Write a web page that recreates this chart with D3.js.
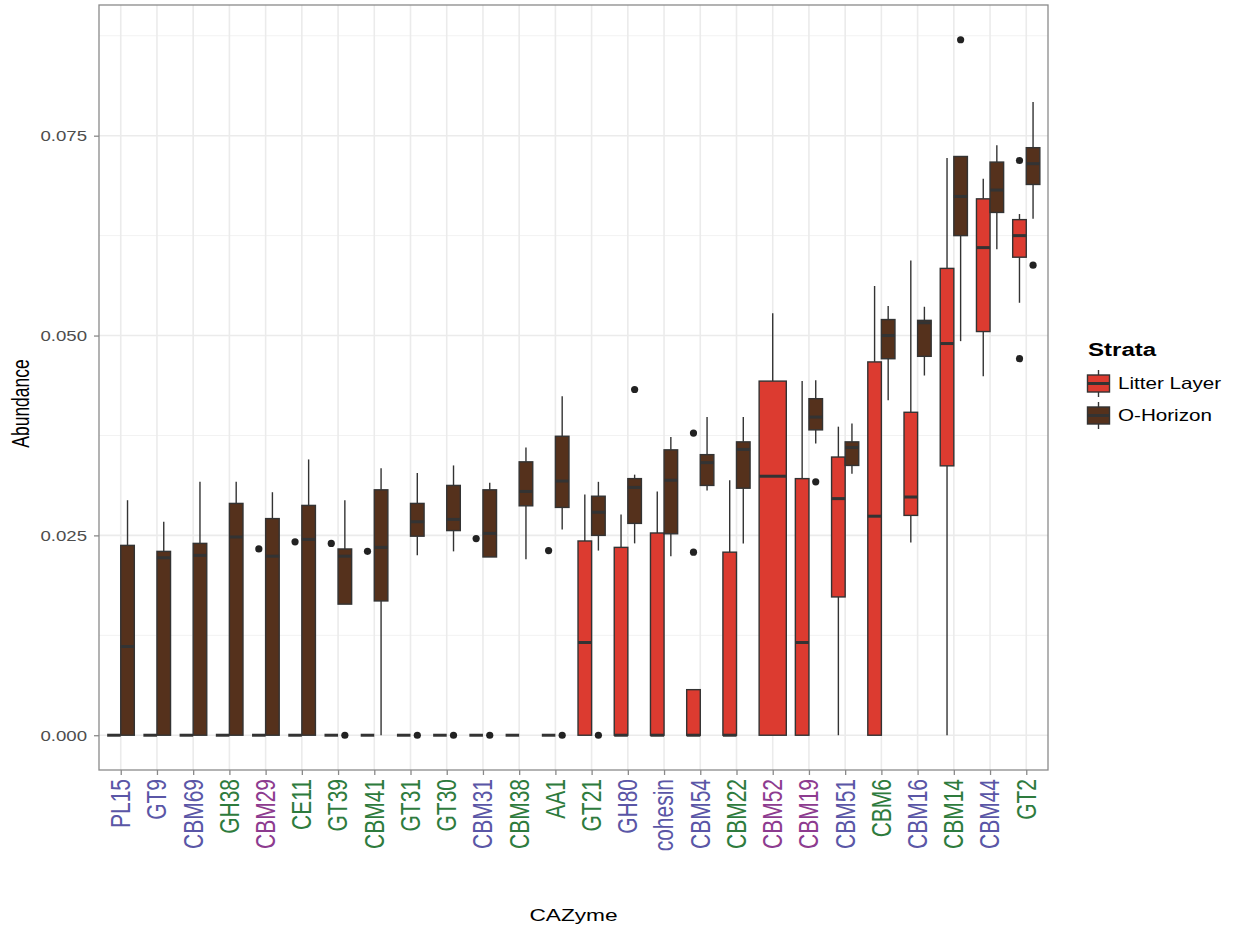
<!DOCTYPE html>
<html>
<head>
<meta charset="utf-8">
<script src="https://cdn.jsdelivr.net/npm/d3@7/dist/d3.min.js"></script>
<style>
  html, body { margin: 0; padding: 0; background: #fff; }
  svg { display: block; }
  text { font-family: "Liberation Sans", Arial, Helvetica, sans-serif; }
</style>
</head>
<body>
<svg id="chart" width="1235" height="934"></svg>
<script>
// CAZyme families along the x axis, ordered by O-Horizon abundance
const categories = ["PL15","GT9","CBM69","GH38","CBM29","CE11","GT39","CBM41","GT31","GT30",
  "CBM31","CBM38","AA1","GT21","GH80","cohesin","CBM54","CBM22","CBM52","CBM19",
  "CBM51","CBM6","CBM16","CBM14","CBM44","GT2"];

// tick label colour group per family
const labelGroup = ["b","b","b","g","p","g","g","g","g","g",
  "b","g","g","g","b","b","b","g","p","p",
  "b","g","b","g","b","g"];

// box summaries: [lower whisker, Q1, median, Q3, upper whisker]
const litterStats = [
  [0,0,0,0,0],[0,0,0,0,0],[0,0,0,0,0],[0,0,0,0,0],[0,0,0,0,0],
  [0,0,0,0,0],[0,0,0,0,0],[0,0,0,0,0],[0,0,0,0,0],[0,0,0,0,0],
  [0,0,0,0,0],[0,0,0,0,0],[0,0,0,0,0],
  [0,0,0.0116,0.0243,0.0301],
  [0,0,0,0.0235,0.0276],
  [0,0,0,0.0253,0.0305],
  [0,0,0,0.0057,0.0057],
  [0,0,0,0.0229,0.0319],
  [0,0,0.0324,0.0443,0.0528],
  [0,0,0.0116,0.0321,0.0443],
  [0,0.0173,0.0296,0.0348,0.0386],
  [0,0,0.0274,0.0467,0.0562],
  [0.0241,0.0275,0.0298,0.0404,0.0594],
  [0,0.0337,0.0490,0.0584,0.0722],
  [0.0449,0.0505,0.0610,0.0671,0.0696],
  [0.0541,0.0598,0.0625,0.0645,0.0652]
];

const oHorizonStats = [
  [0,0,0.0111,0.02375,0.0294],
  [0,0,0.0222,0.0230,0.0267],
  [0,0,0.0225,0.0240,0.0317],
  [0,0,0.0248,0.0290,0.0317],
  [0,0,0.0224,0.0271,0.0304],
  [0,0,0.0245,0.02875,0.0345],
  [0.0164,0.0164,0.0224,0.0233,0.0294],
  [0,0.0168,0.0235,0.0307,0.0334],
  [0.0225,0.0249,0.0267,0.0290,0.0328],
  [0.0230,0.0256,0.0270,0.03125,0.03375],
  [0.0223,0.0223,0.02525,0.0307,0.0316],
  [0.0220,0.0287,0.0305,0.0342,0.0360],
  [0.02575,0.0285,0.0318,0.0374,0.0424],
  [0.0231,0.0250,0.0279,0.0299,0.0317],
  [0.0240,0.0265,0.0310,0.0321,0.0326],
  [0.0224,0.0252,0.0319,0.0357,0.0373],
  [0.0306,0.03125,0.0341,0.0351,0.0398],
  [0.0240,0.0309,0.03575,0.0367,0.0398],
  null,
  [0.0365,0.0382,0.0398,0.0421,0.0444],
  [0.0327,0.03375,0.0360,0.0367,0.0390],
  [0.0419,0.0471,0.0500,0.0520,0.0537],
  [0.0450,0.0474,0.0516,0.0519,0.0536],
  [0.0493,0.0625,0.0674,0.0724,0.0724],
  [0.0608,0.0654,0.0682,0.0717,0.0738],
  [0.0646,0.0689,0.0715,0.0735,0.0792]
];

const litterOutliers = [
  [],[],[],[],[0.0233],[0.0242],[0.0240],[0.0230],[],[],
  [0.0246],[],[0.0231],[],[],[],[0.0229,0.0378],[],[],[],
  [],[],[],[],[],[0.0719,0.0471]
];

const oHorizonOutliers = [
  [],[],[],[],[],[],[0],[],[0],[0],
  [0],[],[0],[0],[0.04325],[],[],[],[],[0.0317],
  [],[],[],[0.0870],[],[0.0588]
];

const strata = ["Litter Layer", "O-Horizon"];
const strataFill = ["#dc3b30", "#55311c"];
const groupColors = { b: "#5a56a6", g: "#2e7b3d", p: "#8d3b8f" };
const yTicks = [0, 0.025, 0.05, 0.075];
const yMinorTicks = [0.0125, 0.0375, 0.0625, 0.0875];

// ---- layout ----
const svg = d3.select("#chart");
const panel = { left: 99, right: 1048, top: 5, bottom: 770 };
const ink = "#333333";

const allValues = [];
[litterStats, oHorizonStats].forEach(arr => arr.forEach(s => { if (s) allValues.push(...s); }));
[litterOutliers, oHorizonOutliers].forEach(arr => arr.forEach(o => allValues.push(...o)));
const [vmin, vmax] = d3.extent(allValues);
const pad = (vmax - vmin) * 0.05;

const y = d3.scaleLinear().domain([vmin - pad, vmax + pad]).range([panel.bottom, panel.top]);
const x = d3.scalePoint().domain(categories).range([panel.left, panel.right]).padding(0.6);
const step = x.step();
const dodgeWidth = step * 0.75;

// panel background + grid
svg.append("rect").attr("x", panel.left).attr("y", panel.top)
  .attr("width", panel.right - panel.left).attr("height", panel.bottom - panel.top)
  .attr("fill", "#fff");

const grid = svg.append("g");
grid.selectAll("line.minor").data(yMinorTicks.filter(t => y(t) > panel.top)).join("line")
  .attr("x1", panel.left).attr("x2", panel.right)
  .attr("y1", d => y(d)).attr("y2", d => y(d))
  .attr("stroke", "#f2f2f2").attr("stroke-width", 1);
grid.selectAll("line.majorY").data(yTicks).join("line")
  .attr("x1", panel.left).attr("x2", panel.right)
  .attr("y1", d => y(d)).attr("y2", d => y(d))
  .attr("stroke", "#ebebeb").attr("stroke-width", 1.6);
grid.selectAll("line.majorX").data(categories).join("line")
  .attr("x1", d => x(d)).attr("x2", d => x(d))
  .attr("y1", panel.top).attr("y2", panel.bottom)
  .attr("stroke", "#ebebeb").attr("stroke-width", 1.6);

// dodged box positions: two strata share each category slot
function boxLayout(i) {
  const c = x(categories[i]);
  const groups = [];
  const present = [litterStats[i], oHorizonStats[i]].map(s => s !== null);
  const n = present.filter(Boolean).length;
  const w = dodgeWidth / n;
  let k = 0;
  [litterStats[i], oHorizonStats[i]].forEach((s, g) => {
    if (!s) return;
    const cx = c - dodgeWidth / 2 + w * (k + 0.5);
    k++;
    groups.push({ stats: s, cx, w, g, outliers: g === 0 ? litterOutliers[i] : oHorizonOutliers[i] });
  });
  return groups;
}

const marks = svg.append("g");
categories.forEach((cat, i) => {
  boxLayout(i).forEach(b => {
    const [lo, q1, med, q3, hi] = b.stats;
    const gEl = marks.append("g");
    gEl.selectAll("circle").data(b.outliers).join("circle")
      .attr("cx", b.cx).attr("cy", d => y(d)).attr("r", 3.6)
      .attr("fill", "#222");
    // whiskers
    gEl.append("line").attr("x1", b.cx).attr("x2", b.cx)
      .attr("y1", y(q3)).attr("y2", y(hi)).attr("stroke", ink).attr("stroke-width", 1.4);
    gEl.append("line").attr("x1", b.cx).attr("x2", b.cx)
      .attr("y1", y(q1)).attr("y2", y(lo)).attr("stroke", ink).attr("stroke-width", 1.4);
    // box
    gEl.append("rect")
      .attr("x", b.cx - b.w / 2).attr("width", b.w)
      .attr("y", y(q3)).attr("height", Math.max(0, y(q1) - y(q3)))
      .attr("fill", strataFill[b.g]).attr("stroke", ink).attr("stroke-width", 1.4);
    // median
    gEl.append("line")
      .attr("x1", b.cx - b.w / 2).attr("x2", b.cx + b.w / 2)
      .attr("y1", y(med)).attr("y2", y(med))
      .attr("stroke", ink).attr("stroke-width", 3);
  });
});

// panel border
svg.append("rect").attr("x", panel.left).attr("y", panel.top)
  .attr("width", panel.right - panel.left).attr("height", panel.bottom - panel.top)
  .attr("fill", "none").attr("stroke", "#8a8a8a").attr("stroke-width", 1.3);

// y axis
const yAxis = svg.append("g").attr("transform", `translate(${panel.left},0)`)
  .call(d3.axisLeft(y).tickValues(yTicks).tickFormat(d3.format(".3f")).tickSize(5).tickPadding(6));
yAxis.select(".domain").remove();
yAxis.selectAll(".tick line").attr("stroke", "#8a8a8a").attr("stroke-width", 1.3);
yAxis.selectAll(".tick text")
  .attr("fill", "#4d4d4d").attr("font-size", 14)
  .attr("x", null).attr("dy", "0.35em")
  .attr("transform", "translate(-12,0) scale(1.33,1)")
  .attr("font-family", "Liberation Sans, Arial, sans-serif");

// x axis
const xAxis = svg.append("g").attr("transform", `translate(0,${panel.bottom})`)
  .call(d3.axisBottom(x).tickSize(5).tickFormat(""));
xAxis.select(".domain").remove();
xAxis.selectAll(".tick line").attr("stroke", "#8a8a8a").attr("stroke-width", 1.3);

svg.append("g").selectAll("text").data(categories).join("text")
  .attr("transform", d => `translate(${x(d)},${panel.bottom + 9}) rotate(-90) scale(1,1.28)`)
  .attr("text-anchor", "end").attr("dy", "0.35em")
  .attr("font-size", 21)
  .attr("fill", (d, i) => groupColors[labelGroup[i]])
  .text(d => d);

// axis titles
svg.append("text")
  .attr("transform", `translate(${(panel.left + panel.right) / 2},921) scale(1.35,1)`)
  .attr("text-anchor", "middle").attr("font-size", 16.8).attr("fill", "#000")
  .text("CAZyme");
svg.append("text")
  .attr("transform", `translate(29,${(panel.top + panel.bottom) / 2 + 16}) rotate(-90) scale(1,1.35)`)
  .attr("text-anchor", "middle").attr("font-size", 17.5).attr("fill", "#000")
  .text("Abundance");

// legend
const legend = svg.append("g").attr("transform", "translate(1086,0)");
legend.append("text").attr("transform", "translate(2,356) scale(1.3,1)")
  .attr("font-weight", "bold").attr("font-size", 18.5)
  .text("Strata");
strata.forEach((s, i) => {
  const top = 370 + i * 32;
  const kg = legend.append("g").attr("transform", `translate(0,${top})`);
  kg.append("line").attr("x1", 12.5).attr("x2", 12.5).attr("y1", 0).attr("y2", 27)
    .attr("stroke", ink).attr("stroke-width", 1.4);
  kg.append("rect").attr("x", 1.5).attr("y", 5).attr("width", 22).attr("height", 17)
    .attr("fill", strataFill[i]).attr("stroke", ink).attr("stroke-width", 1.4);
  kg.append("line").attr("x1", 1.5).attr("x2", 23.5).attr("y1", 13.5).attr("y2", 13.5)
    .attr("stroke", ink).attr("stroke-width", 3);
  kg.append("text").attr("transform", "translate(32,19) scale(1.25,1)")
    .attr("font-size", 16.5).attr("fill", "#000").text(s);
});
</script>
</body>
</html>
